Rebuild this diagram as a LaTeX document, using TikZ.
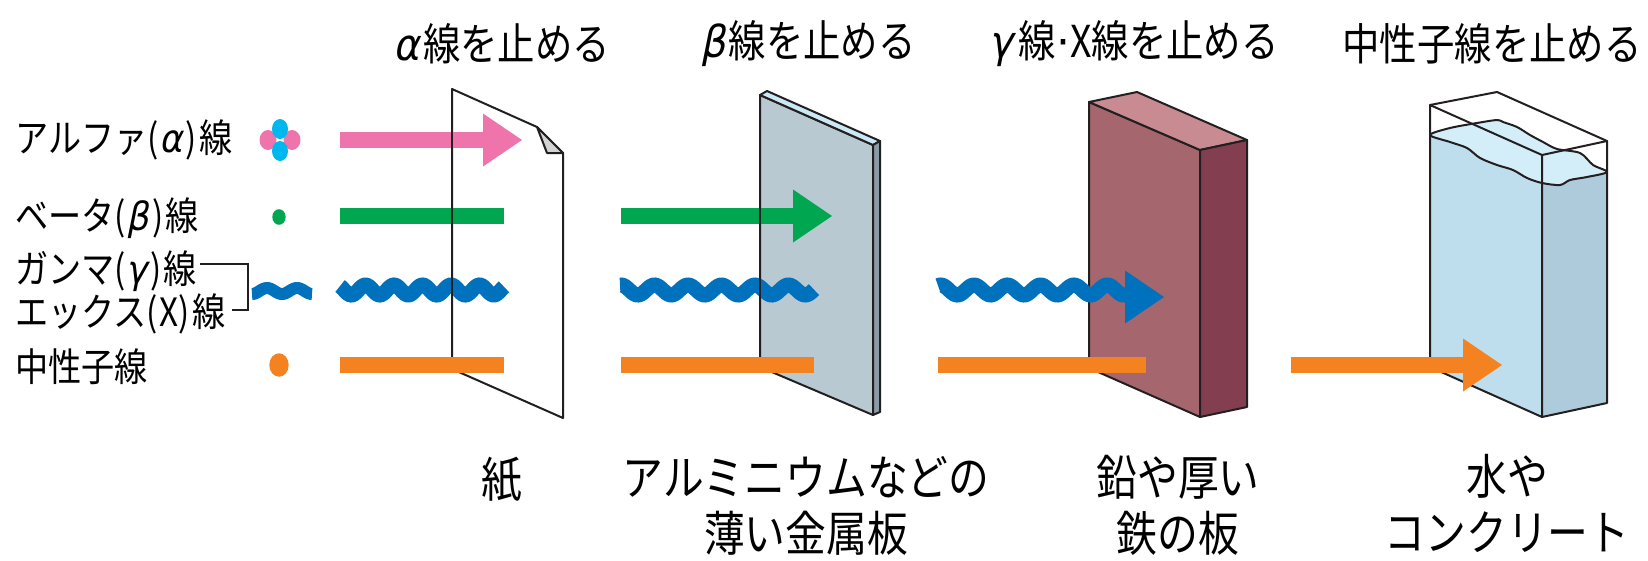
\documentclass[tikz,border=0pt]{standalone}
\usepackage{fontspec}
\setmainfont{Noto Sans CJK JP}[FakeStretch=0.85]
\newfontfamily\greekfont{DejaVu Sans}[FakeSlant=0.2, FakeStretch=0.9]
\newfontfamily\dotfont{DejaVu Sans}
\newcommand{\gk}[1]{{\greekfont #1}}

\definecolor{alphapink}{HTML}{F074AC}
\definecolor{alphacyan}{HTML}{00B8EE}
\definecolor{betagreen}{HTML}{00A650}
\definecolor{gammablue}{HTML}{0071BC}
\definecolor{neutronorange}{HTML}{F58220}
\definecolor{inkline}{HTML}{231F20}
\definecolor{foldgray}{HTML}{D1D3D4}
\definecolor{alufront}{HTML}{B8C9D2}
\definecolor{alutop}{HTML}{CBE8F5}
\definecolor{aluside}{HTML}{8B9BA5}
\definecolor{leadfront}{HTML}{A5666D}
\definecolor{leadtop}{HTML}{C98B92}
\definecolor{leadside}{HTML}{833F50}
\definecolor{waterfront}{HTML}{BEDEED}
\definecolor{waterside}{HTML}{AECBDC}
\definecolor{watertop}{HTML}{D4EEF9}

\tikzset{
  legendtext/.style={anchor=west, inner sep=0pt,
    font=\fontsize{39}{44}\selectfont},
  headtext/.style={inner sep=0pt, font=\fontsize{44}{50}\selectfont},
  basetext/.style={inner sep=0pt, align=center,
    font=\fontsize{48}{56}\selectfont},
  outline/.style={draw=inkline, line width=2pt, line join=round},
  bracket/.style={draw=inkline, line width=2pt},
  beam/.style={line width=16pt},
  wave/.style={gammablue, line width=15pt},
  beamhead/.pic={\fill[pic actions] (0,-26.5) -- (39,0) -- (0,26.5) -- cycle;}
}

\begin{document}
\begin{tikzpicture}[x=1pt, y=-1pt]
  \useasboundingbox (0,0) rectangle (1648,560);

  % what stops each kind of ray
  \node[headtext] (stopalpha) at (502,44) {\gk{α}\kern3pt 線を止める};
  \node[headtext] (stopbeta) at (808,44) {\gk{β}\kern3pt 線を止める};
  \node[headtext] (stopgamma) at (1134,44)
    {\gk{γ}\kern6pt 線{\dotfont ·}X線を止める};
  \node[headtext] (stopneutron) at (1492,44) {中性子線を止める};

  % legend
  \node[legendtext] (alphalbl) at (15,140)
    {アルファ(\kern1pt\gk{α}\kern3pt)\kern2pt 線};
  \node[legendtext] (betalbl) at (15,218)
    {ベータ(\kern1pt\gk{β}\kern3pt)\kern2pt 線};
  \node[legendtext] (gammalbl) at (15,271)
    {ガンマ(\kern1pt\gk{γ}\kern3pt)\kern2pt 線};
  \node[legendtext] (xraylbl) at (15,314) {エックス(\kern1pt X\kern1pt)\kern2pt 線};
  \node[legendtext] (neutronlbl) at (15,367) {中性子線};
  \draw[bracket] ([xshift=3pt, yshift=7pt]gammalbl.east) -| (248,310)
    -- ([xshift=6pt]xraylbl.east |- 0,310);

  \fill[alphapink] (268,140) ellipse (8.5 and 10);
  \fill[alphapink] (292,140) ellipse (8.5 and 10);
  \fill[alphacyan] (280,129) ellipse (8 and 10);
  \fill[alphacyan] (280,151) ellipse (8 and 10);
  \fill[betagreen] (279,217) ellipse (6.7 and 7.8);
  \draw[gammablue, line width=12pt] plot[domain=252:312, samples=60]
    (\x, {291 - 3*cos(((\x-267)/30)*360)});
  \fill[neutronorange] (279,365) ellipse (9.7 and 11.7);

  % paper
  \filldraw[outline, fill=white] (452,89) -- (537,127) -- (563,153)
    -- (563,418) -- (452,369) -- cycle;
  \filldraw[outline, fill=foldgray] (537,127) -- (547,153) -- (563,153) -- cycle;

  % aluminium sheet
  \filldraw[outline, fill=alufront] (760,95) -- (873,145) -- (873,415)
    -- (760,367) -- cycle;
  \filldraw[outline, fill=alutop] (760,95) -- (767,91) -- (880,141)
    -- (873,145) -- cycle;
  \filldraw[outline, fill=aluside] (873,145) -- (880,141) -- (880,412)
    -- (873,415) -- cycle;

  % lead block
  \filldraw[outline, fill=leadfront] (1089,102) -- (1200,150) -- (1200,417)
    -- (1089,368) -- cycle;
  \filldraw[outline, fill=leadtop] (1089,102) -- (1137,92) -- (1247,140)
    -- (1200,150) -- cycle;
  \filldraw[outline, fill=leadside] (1200,150) -- (1247,140) -- (1247,407)
    -- (1200,417) -- cycle;

  % water tank
  \fill[waterfront] plot[smooth] coordinates {(1430,135) (1450,142)
      (1467,148) (1480,158) (1497,165) (1513,170) (1527,178) (1542,183)}
    -- (1542,417) -- (1430,367) -- cycle;
  \fill[waterside] plot[smooth] coordinates {(1542,183) (1560,185)
      (1570,180) (1587,177) (1607,172)}
    -- (1607,403) -- (1542,417) -- cycle;
  \filldraw[outline, fill=watertop] plot[smooth cycle] coordinates {
      (1430,135) (1450,142) (1467,148) (1480,158) (1497,165) (1513,170)
      (1527,178) (1542,183) (1560,185) (1570,180) (1587,177) (1607,172)
      (1593,165) (1580,153) (1557,149) (1543,142) (1530,135) (1517,127)
      (1503,122) (1497,120) (1477,123) (1450,128)};
  \draw[outline] (1430,105) -- (1542,155) -- (1542,417) -- (1430,367) -- cycle;
  \draw[outline] (1542,155) -- (1607,141) -- (1607,403) -- (1542,417);
  \draw[outline] (1430,105) -- (1497,92) -- (1607,141);

  % alpha rays
  \coordinate (a0) at (340,140);
  \coordinate (a1) at (483,140);
  \draw[beam, alphapink] (a0) -- (a1);
  \pic[fill=alphapink] at (a1) {beamhead};

  % beta rays
  \coordinate (b0) at (340,216);
  \coordinate (b1) at (504,216);
  \coordinate (b2) at (621,216);
  \coordinate (b3) at (793,216);
  \draw[beam, betagreen] (b0) -- (b1);
  \draw[beam, betagreen] (b2) -- (b3);
  \pic[fill=betagreen] at (b3) {beamhead};

  % gamma and x rays
  \draw[wave] plot[domain=340:504, samples=120]
    (\x, {290 - 5*cos(((\x-337)/28.5)*360)});
  \draw[wave] plot[domain=620:814, samples=140]
    (\x, {290 - 5*cos(((\x-621)/33.5)*360)});
  \draw[wave] plot[domain=938:1127, samples=140]
    (\x, {290 - 5*cos(((\x-940.7)/33.3)*360)});
  \coordinate (g1) at (1125,297);
  \pic[fill=gammablue] at (g1) {beamhead};

  % neutrons
  \coordinate (n0) at (340,365);
  \coordinate (n1) at (504,365);
  \coordinate (n2) at (621,365);
  \coordinate (n3) at (814,365);
  \coordinate (n4) at (938,365);
  \coordinate (n5) at (1146,365);
  \coordinate (n6) at (1291,365);
  \coordinate (n7) at (1463,365);
  \draw[beam, neutronorange] (n0) -- (n1);
  \draw[beam, neutronorange] (n2) -- (n3);
  \draw[beam, neutronorange] (n4) -- (n5);
  \draw[beam, neutronorange] (n6) -- (n7);
  \pic[fill=neutronorange] at (n7) {beamhead};

  % front edges of paper and sheet stay in front
  \draw[outline] (452,89) -- (452,357);
  \draw[outline] (760,95) -- (760,357);

  % materials
  \node[basetext] (paper) at (502,480) {紙};
  \node[basetext] (alu) at (806,506) {アルミニウムなどの\\薄い金属板};
  \node[basetext] (lead) at (1178,505) {鉛や厚い\\鉄の板};
  \node[basetext] (water) at (1507,503) {水や\\コンクリート};
\end{tikzpicture}
\end{document}
